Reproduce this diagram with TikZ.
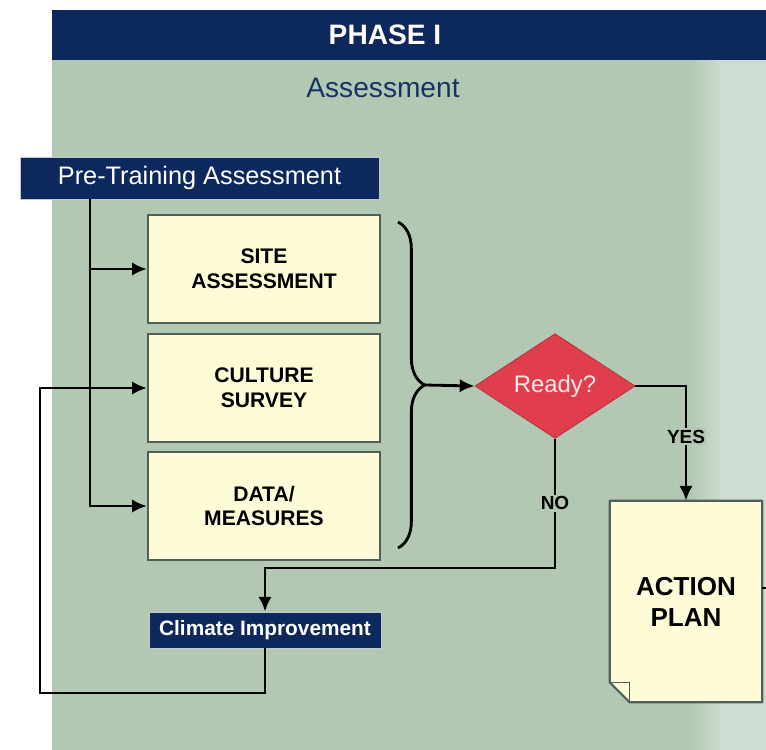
\documentclass[tikz,border=0pt]{standalone}
\usepackage{fontspec}
\setmainfont{Liberation Sans}
\usetikzlibrary{arrows.meta, shapes.geometric, decorations.pathreplacing}

\definecolor{navy}{RGB}{12,40,92}
\definecolor{titleblue}{RGB}{22,52,98}
\definecolor{panel}{RGB}{178,200,178}
\definecolor{panellight}{RGB}{206,221,211}
\definecolor{cream}{RGB}{254,252,214}
\definecolor{boxline}{RGB}{80,95,88}
\definecolor{alarm}{RGB}{224,62,76}

\tikzset{
	flow/.style = {-{Latex[length = 10.5pt, width = 9.5pt]}, line width = 2pt},
	bar/.style = {fill = navy, draw = white!75!navy, line width = 0.6pt, text = white, inner sep = 0pt},
	stepbox/.style = {fill = cream, draw = boxline, line width = 1.6pt, minimum width = 5.8cm, minimum height = 2.7cm, align = center, font = \fontsize{15}{17.7}\selectfont\bfseries},
	answer/.style = {fill = panel, inner sep = 1pt, font = \fontsize{13.5}{16}\selectfont\bfseries}
}

\begin{document}
\begin{tikzpicture}[x = 0.025cm, y = -0.025cm]
	
	\useasboundingbox (0, 0) rectangle (766, 749);
	\fill[white] (0, 0) rectangle (766, 749);
	\fill[panel] (52, 60) rectangle (766, 760);
	\shade[left color = panel, right color = panellight] (690, 60) rectangle (723, 760);
	\fill[panellight] (722, 60) rectangle (766, 760);
	\fill[navy] (52, 10) rectangle (766, 60);
	
	\node[text = white, font = \fontsize{20}{24}\selectfont\bfseries] (phase) at (385, 35) {PHASE I};
	\node[text = titleblue, font = \fontsize{20}{24}\selectfont] (stage) at (383, 88) {Assessment};
	
	\node[bar, minimum width = 8.975cm, minimum height = 1.05cm, font = \fontsize{18}{22}\selectfont] (pre) at (199.5, 178) {Pre-Training Assessment};
	\node[stepbox] (site) at (264, 269) {SITE\\ASSESSMENT};
	\node[stepbox] (culture) at (264, 388) {CULTURE\\SURVEY};
	\node[stepbox] (data) at (264, 506) {DATA/\\MEASURES};
	\node[diamond, fill = alarm, draw = alarm!80!black, line width = 0.6pt, minimum width = 4cm, minimum height = 2.55cm, inner sep = 0pt, text = white!88!alarm, font = \fontsize{17}{20}\selectfont] (ready) at (555, 386) {Ready?};
	\node[bar, minimum width = 5.8cm, minimum height = 0.9cm, font = \fontsize{14.8}{18}\selectfont\bfseries] (climate) at (265, 630) {Climate Improvement};
	\node[fill = cream, minimum width = 3.8cm, minimum height = 5.025cm, align = center, font = \fontsize{18.5}{22}\selectfont\bfseries] (plan) at (686, 601.5) {ACTION\\PLAN};
	
	% folded corner of the action plan
	\fill[panel] (plan.south west) -- ([xshift = 0.5cm]plan.south west) -- ([yshift = 0.5cm]plan.south west) -- cycle;
	\draw[boxline, line width = 1.6pt, line join = round] (plan.north west) -- (plan.north east) -- (plan.south east) -- ([xshift = 0.5cm]plan.south west) -- ([yshift = 0.5cm]plan.south west) -- cycle;
	\draw[boxline, line width = 1.1pt] ([yshift = 0.5cm]plan.south west) -- ([xshift = 0.5cm, yshift = 0.5cm]plan.south west) -- ([xshift = 0.5cm]plan.south west);
	
	\coordinate (trunk) at (90, 199);
	\coordinate (bracetip) at (425, 385);
	\coordinate (nojoin) at (265, 568);
	\coordinate (loopcorner) at (40, 693);
	\coordinate (planout) at (766, 588);
	
	\draw[flow] (trunk) |- (site.west);
	\draw[flow] (trunk) |- (data.west);
	
	\draw[decorate, decoration = {brace, amplitude = 19pt}, line width = 2pt] (398, 222) -- (398, 548);
	\draw[flow] (bracetip) -- (ready.west);
	
	\draw[flow] (ready.east) -| (plan.north) node[answer, pos = 0.72] {YES};
	\draw[flow] (ready.south) |- (nojoin) node[answer, pos = 0.25] {NO} -- (climate.north);
	\draw[flow] (climate.south) |- (loopcorner) |- (culture.west);
	
	\draw[line width = 2pt] (plan.east |- planout) -- (planout);
	
\end{tikzpicture}
\end{document}
